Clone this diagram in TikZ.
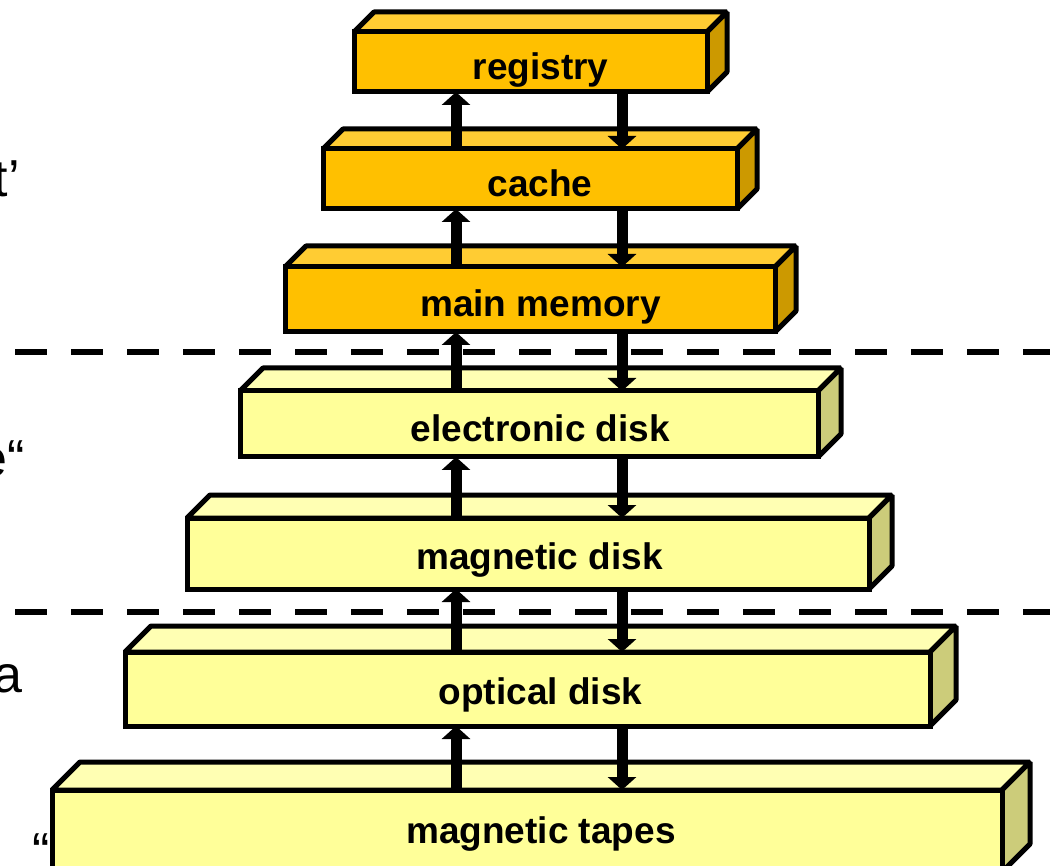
\documentclass[tikz,border=0pt]{standalone}
\usepackage{fontspec}
\setmainfont{Liberation Sans}
\usetikzlibrary{arrows.meta}
\definecolor{orFront}{HTML}{FFC000}
\definecolor{orTop}{HTML}{FFCC33}
\definecolor{orSide}{HTML}{CC9900}
\definecolor{yeFront}{HTML}{FFFF99}
\definecolor{yeTop}{HTML}{FFFFB3}
\definecolor{yeSide}{HTML}{CCCC7A}
\tikzset{
  boxline/.style={draw=black, line width=5pt, line join=miter},
  faceline/.style={draw=black, line width=5pt, line join=bevel},
  boxlabel/.style={anchor=base, inner sep=0pt, font=\fontsize{37}{44}\selectfont\bfseries},
  sidetext/.style={anchor=base east, inner sep=0pt, font=\fontsize{52}{60}\selectfont},
  dashline/.style={line width=6pt, dash pattern=on 32pt off 24pt},
  flowarrow/.style={line width=11pt, -{Triangle[width=28pt,length=13pt]}},
}
\newcommand{\stbox}[9]{%
  \filldraw[faceline, fill=#7Top] (#2,-#4) -- ({#2+#6},{-#4+#6}) -- ({#3+#6},{-#4+#6}) -- (#3,-#4) -- cycle;
  \filldraw[faceline, fill=#7Side] (#3,-#4) -- ({#3+#6},{-#4+#6}) -- ({#3+#6},{-#5+#6}) -- (#3,-#5) -- cycle;
  \node[boxline, fill=#7Front, inner sep=0pt, outer sep=0pt, anchor=north west,
        minimum width={#3-#2}, minimum height={#5-#4}] (#1) at (#2,-#4) {};
  \node[boxlabel] (#1-label) at ({(#2+#3+#6)/2},{-(#4+#5)/2-#9}) {#8};
}
\begin{document}
\begin{tikzpicture}[x=1pt,y=1pt]
\useasboundingbox (0,0) rectangle (1050,-866);
% dashed separators
\draw[dashline] (15,-352) -- (1050,-352);
\draw[dashline] (15,-612) -- (1050,-612);
% left cut-off texts
\node[sidetext] (t1) at (20,-197) {t’};
\node[sidetext] (t2) at (25,-477) {e“};
\node[sidetext] (t3) at (23,-692) {a};
\node[sidetext] (t4) at (50,-869) {“};
% boxes
\stbox{reg}{354}{707}{32}{92}{20}{or}{registry}{17.5}
\stbox{cache}{323}{737}{149}{209}{20}{or}{cache}{17.5}
\stbox{mem}{285}{775}{267}{332}{21}{or}{main memory}{17.5}
\stbox{edisk}{240}{818}{391}{457}{23}{ye}{electronic disk}{17.5}
\stbox{mdisk}{187}{869}{518}{589}{23}{ye}{magnetic disk}{16}
\stbox{odisk}{125}{930}{652}{726}{26}{ye}{optical disk}{15}
\stbox{tapes}{52}{1002}{790}{872}{28}{ye}{magnetic tapes}{12}
% arrow columns
\coordinate (ux) at (456,0);
\coordinate (dx) at (622,0);
\foreach \lo/\hi in {cache/reg, mem/cache, edisk/mem, mdisk/edisk, odisk/mdisk, tapes/odisk}{
  \draw[flowarrow] (\lo.north -| ux) -- (\hi.south -| ux);
  \draw[flowarrow] (\hi.south -| dx) -- (\lo.north -| dx);
}
\end{tikzpicture}
\end{document}
